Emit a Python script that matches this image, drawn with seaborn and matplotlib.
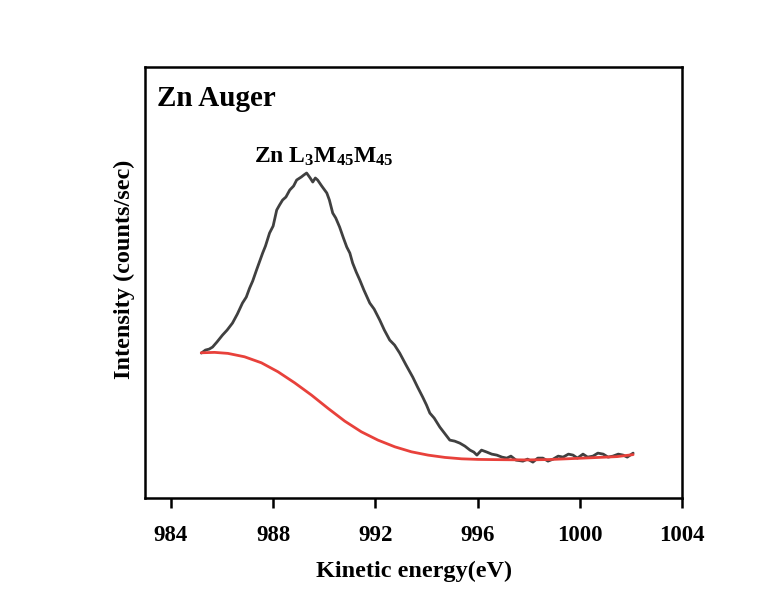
import numpy as np
import matplotlib
matplotlib.use('Agg')
import matplotlib.pyplot as plt
import seaborn as sns
import pandas as pd

# Kinetic energy (eV) and intensity (arbitrary counts)
energy_raw = [985.19, 985.30, 985.35, 985.50, 985.63, 985.80, 986.02, 986.20, 986.41, 986.60, 986.80,
              986.95, 987.08, 987.20, 987.35, 987.59, 987.70, 987.86, 988.00, 988.14, 988.25, 988.37, 988.50, 988.65, 988.80,
              988.92, 989.10, 989.20, 989.31, 989.45, 989.55, 989.65, 989.74, 989.90, 990.10, 990.20,
              990.33, 990.45, 990.60, 990.75, 990.88, 991.00, 991.11, 991.25, 991.39, 991.55,
              991.78, 991.95, 992.17, 992.35, 992.56, 992.75, 992.95, 993.20, 993.46, 993.65,
              993.85, 994.00, 994.13, 994.30, 994.52, 994.70, 994.91, 995.10, 995.30, 995.50,
              995.70, 995.85, 995.97, 996.15, 996.36, 996.55, 996.75, 996.95, 997.14, 997.30,
              997.50, 997.77, 997.95, 998.16, 998.35, 998.55, 998.75, 998.95, 999.15, 999.34,
              999.55, 999.73, 999.90, 1000.12, 1000.30, 1000.51, 1000.70, 1000.91, 1001.10, 1001.29,
              1001.50, 1001.69, 1001.85, 1002.08]
counts_raw = [145, 147, 148, 149, 151, 156, 163, 168, 175, 184, 195,
              201, 210, 217, 228, 245, 252, 265, 272, 288, 293, 298, 301, 308, 312,
              318, 321, 323, 325, 320, 316, 320, 318, 312, 305, 298,
              285, 280, 271, 260, 251, 245, 235, 226, 218, 208,
              195, 189, 178, 168, 158, 153, 145, 133, 121, 111,
              101, 93, 85, 80, 71, 65, 58, 57, 55, 52,
              48, 46, 43, 48, 46, 44, 43, 41, 40, 42,
              38, 37, 39, 36, 40, 40, 37, 39, 42, 41,
              44, 43, 40, 44, 41, 42, 45, 44, 41, 42,
              44, 43, 41, 45]

energy_bg = [985.19, 985.71, 986.23, 986.88, 987.54, 988.19, 988.84, 989.50, 990.15, 990.80,
             991.45, 992.10, 992.76, 993.41, 994.06, 994.72, 995.37, 996.02, 996.67, 997.92,
             998.82, 1000.12, 1001.45, 1002.08]
counts_bg = [145.3, 145.7, 144.7, 141.3, 135.3, 126.3, 115.3, 103.0, 89.7, 77.0,
             66.3, 58.0, 51.3, 46.3, 43.0, 40.7, 39.3, 38.7, 38.5, 38.2,
             38.6, 40.0, 41.5, 43.5]

xticks = [984, 988, 992, 996, 1000, 1004]

df_raw = pd.DataFrame({'energy': energy_raw, 'counts': counts_raw})
df_bg = pd.DataFrame({'energy': energy_bg, 'counts': counts_bg})

sns.set_style('ticks')
plt.rcParams['font.family'] = ['Liberation Serif', 'DejaVu Serif']
plt.rcParams['font.weight'] = 'bold'
plt.rcParams['text.color'] = 'black'
plt.rcParams['axes.labelcolor'] = 'black'
plt.rcParams['xtick.color'] = 'black'
plt.rcParams['mathtext.fontset'] = 'custom'
plt.rcParams['mathtext.bf'] = 'Liberation Serif:bold'
plt.rcParams['mathtext.rm'] = 'Liberation Serif:bold'
plt.rcParams['mathtext.default'] = 'bf'

fig, ax = plt.subplots(figsize=(7.77, 5.98), dpi=100)
fig.subplots_adjust(left=0.187, right=0.878, bottom=0.167, top=0.888)

sns.lineplot(data=df_raw, x='energy', y='counts', color='#404040', linewidth=2, sort=False, ax=ax)
sns.lineplot(data=df_bg, x='energy', y='counts', color='#e8413b', linewidth=2, sort=False, ax=ax)

ax.set_xlim(983, 1004)
ax.set_ylim(0, 431)
ax.set_xticks(xticks)
ax.set_yticks([])
ax.tick_params(axis='x', direction='out', length=7, width=1.8, labelsize=16.5, pad=12)
for s in ax.spines.values():
    s.set_linewidth(1.8)
    s.set_color('black')

ax.set_xlabel('Kinetic energy(eV)', fontsize=17.5, fontweight='bold', labelpad=11)
ax.set_ylabel('Intensity (counts/sec)', fontsize=17.5, fontweight='bold')
ax.yaxis.set_label_coords(-0.02, 0.53)

ax.text(0.021, 0.928, 'Zn Auger', transform=ax.transAxes, fontsize=21,
        fontweight='bold', va='center', ha='left')
ax.text(0.333, 0.791, r'Zn L$_{3}$M$_{45}$M$_{45}$', transform=ax.transAxes, fontsize=17,
        fontweight='bold', va='center', ha='center')

plt.savefig('out.png', dpi=100)
